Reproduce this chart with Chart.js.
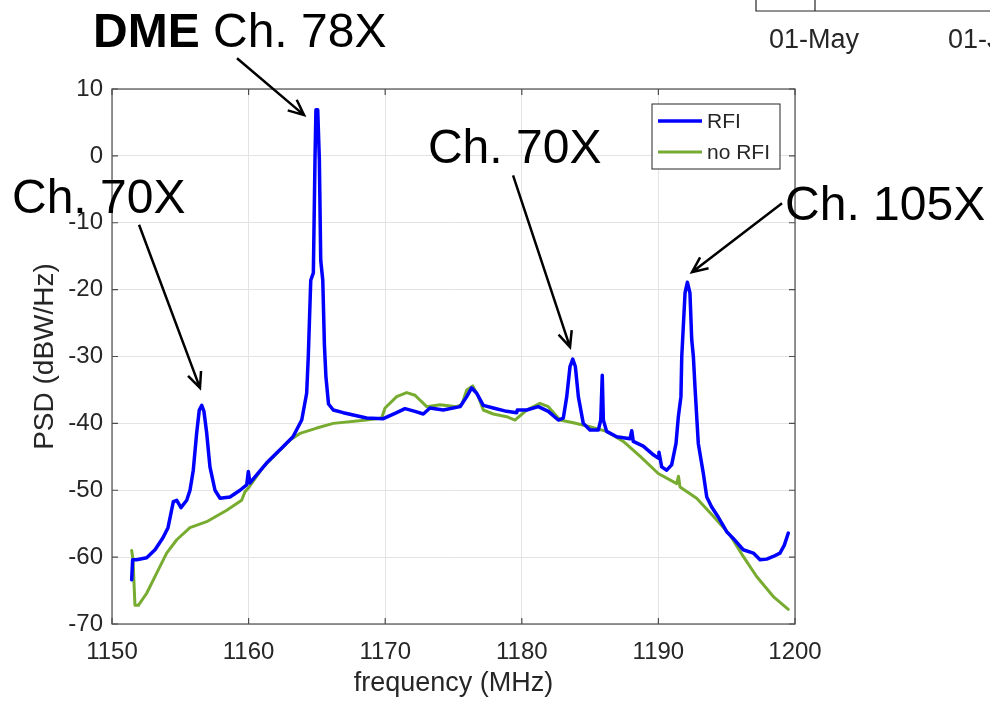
<!DOCTYPE html>
<html>
<head>
<meta charset="utf-8">
<script src="https://cdn.jsdelivr.net/npm/chart.js@4.4.1/dist/chart.umd.min.js"></script>
<style>
  html, body { margin: 0; padding: 0; background: #fff; }
  #wrap { width: 990px; height: 702px; position: relative; }
</style>
</head>
<body>
<div id="wrap"><canvas id="psd"></canvas></div>
<script>
// values (frequency in MHz, PSD in dBW/Hz)
const rfiFreq = [
  1151.44, 1151.51, 1151.81, 1152.54, 1153.15, 1153.73, 1154.10, 1154.49, 1154.74, 1155.05,
  1155.47, 1155.71, 1155.95, 1156.20, 1156.39, 1156.57, 1156.73, 1156.93, 1157.17, 1157.54,
  1157.91, 1158.64, 1159.37, 1159.86, 1159.98, 1160.10, 1161.33, 1162.52, 1163.25, 1163.89,
  1164.25, 1164.37, 1164.55, 1164.74, 1164.86, 1164.93, 1165.06, 1165.18, 1165.28, 1165.43,
  1165.55, 1165.66, 1165.85, 1166.20, 1166.93, 1168.64, 1169.86, 1170.84, 1171.45, 1172.18,
  1172.79, 1173.28, 1174.25, 1175.48, 1175.97, 1176.33, 1176.70, 1177.18, 1177.91, 1178.89,
  1179.63, 1179.67, 1180.36, 1181.21, 1181.94, 1182.67, 1183.04, 1183.29, 1183.53, 1183.73,
  1183.92, 1184.14, 1184.50, 1184.99, 1185.60, 1185.78, 1185.89, 1185.97, 1186.21, 1186.95,
  1187.92, 1188.05, 1188.16, 1188.89, 1189.63, 1189.99, 1190.04, 1190.24, 1190.61, 1190.97,
  1191.29, 1191.46, 1191.65, 1191.71, 1191.95, 1192.12, 1192.31, 1192.44, 1192.56, 1192.69,
  1192.92, 1193.29, 1193.54, 1193.90, 1194.38, 1195.00, 1195.48, 1196.21, 1196.95, 1197.44,
  1197.93, 1198.41, 1198.90, 1199.22, 1199.51
];
const rfiPsd = [
  -63.4, -60.4, -60.4, -60.1, -58.9, -57.1, -55.6, -51.7, -51.5, -52.6,
  -51.5, -50.0, -47.0, -41.4, -38.0, -37.3, -38.2, -41.4, -46.5, -50.0,
  -51.2, -51.0, -50.0, -49.2, -47.2, -48.9, -45.9, -43.5, -42.0, -39.5,
  -35.5, -30.0, -18.6, -17.5, -0.6, 6.9, 6.9, -0.6, -15.6, -18.6,
  -28.3, -33.0, -37.1, -38.0, -38.4, -39.2, -39.3, -38.4, -37.8, -38.2,
  -38.6, -37.7, -38.0, -37.5, -36.0, -34.7, -35.5, -37.3, -37.7, -38.2,
  -38.4, -38.0, -38.0, -37.5, -38.2, -39.5, -39.2, -36.0, -31.5, -30.4,
  -31.5, -36.0, -40.0, -41.0, -41.0, -39.5, -32.8, -39.5, -41.2, -42.0,
  -42.3, -41.1, -42.7, -43.4, -44.7, -45.2, -44.3, -46.5, -47.0, -46.2,
  -43.0, -39.0, -36.0, -30.0, -20.5, -18.9, -20.5, -27.5, -30.0, -35.0,
  -43.0, -47.5, -51.0, -52.5, -54.0, -56.2, -57.2, -58.9, -59.4, -60.4,
  -60.3, -59.9, -59.4, -58.2, -56.4
];

const noRfiFreq = [
  1151.44, 1151.54, 1151.68, 1151.93, 1152.54, 1153.27, 1154.00, 1154.74, 1155.71, 1156.93,
  1158.40, 1159.49, 1159.74, 1159.98, 1161.08, 1162.06, 1163.03, 1163.76, 1164.99, 1166.20,
  1168.64, 1169.74, 1169.99, 1170.84, 1171.57, 1172.18, 1173.04, 1174.01, 1175.23, 1175.60,
  1175.97, 1176.41, 1176.82, 1177.18, 1177.91, 1178.89, 1179.50, 1180.36, 1181.33, 1181.94,
  1182.80, 1183.77, 1184.99, 1186.21, 1187.43, 1188.65, 1189.99, 1191.34, 1191.47, 1191.58,
  1192.80, 1194.02, 1195.24, 1196.21, 1197.19, 1198.41, 1199.51
];
const noRfiPsd = [
  -59.0, -60.4, -67.2, -67.2, -65.4, -62.4, -59.4, -57.4, -55.6, -54.7,
  -53.0, -51.5, -50.2, -49.7, -46.5, -44.5, -42.5, -41.5, -40.7, -40.0,
  -39.5, -39.2, -37.7, -36.0, -35.4, -35.8, -37.5, -37.2, -37.5, -37.2,
  -35.0, -34.4, -36.0, -38.0, -38.6, -39.0, -39.5, -38.0, -37.0, -37.5,
  -39.5, -39.9, -40.5, -41.2, -42.7, -44.9, -47.5, -49.0, -47.9, -49.5,
  -51.2, -53.9, -56.7, -59.9, -62.9, -65.9, -67.8
];

const seriesNames = ['RFI', 'no RFI'];
const xTicks = [1150, 1160, 1170, 1180, 1190, 1200];
const yTicks = [-70, -60, -50, -40, -30, -20, -10, 0, 10];

// callouts: label, text anchor (freq, psd), arrow start, arrow tip
const callouts = [
  { bold: 'DME', text: ' Ch. 78X', at: [1148.61, 16.3], from: [1159.15, 14.6], to: [1164.06, 6.1] },
  { bold: '', text: 'Ch. 70X', at: [1142.68, -8.5], from: [1151.98, -10.3], to: [1156.44, -34.7] },
  { bold: '', text: 'Ch. 70X', at: [1173.13, -1.1], from: [1179.36, -2.9], to: [1183.53, -28.6] },
  { bold: '', text: 'Ch. 105X', at: [1199.27, -9.6], from: [1199.05, -7.1], to: [1192.46, -17.4] }
];

const toPoints = (xs, ys) => xs.map((x, i) => ({ x: x, y: ys[i] }));

const FONT = 'Liberation Sans, Arial, Helvetica, sans-serif';
const AXIS_COL = '#262626';

function arrow(ctx, x1, y1, x2, y2) {
  const ang = Math.atan2(y2 - y1, x2 - x1);
  const len = 17, spread = 0.42;
  ctx.beginPath();
  ctx.moveTo(x1, y1);
  ctx.lineTo(x2, y2);
  ctx.moveTo(x2 - len * Math.cos(ang - spread), y2 - len * Math.sin(ang - spread));
  ctx.lineTo(x2, y2);
  ctx.lineTo(x2 - len * Math.cos(ang + spread), y2 - len * Math.sin(ang + spread));
  ctx.stroke();
}

const extras = {
  id: 'extras',
  afterDraw(chart) {
    const ctx = chart.ctx;
    const a = chart.chartArea;
    const xs = chart.scales.x, ys = chart.scales.y;
    ctx.save();

    // axes box + inward ticks
    ctx.strokeStyle = '#4d4d4d';
    ctx.lineWidth = 1.2;
    ctx.strokeRect(a.left, a.top, a.right - a.left, a.bottom - a.top);
    ctx.beginPath();
    xTicks.forEach(v => {
      const px = xs.getPixelForValue(v);
      ctx.moveTo(px, a.bottom); ctx.lineTo(px, a.bottom - 6);
      ctx.moveTo(px, a.top); ctx.lineTo(px, a.top + 6);
    });
    yTicks.forEach(v => {
      const py = ys.getPixelForValue(v);
      ctx.moveTo(a.left, py); ctx.lineTo(a.left + 6, py);
      ctx.moveTo(a.right, py); ctx.lineTo(a.right - 6, py);
    });
    ctx.stroke();

    // legend box inside the axes, top right
    const lx = a.right - 143, ly = a.top + 15, lw = 128, lh = 65;
    ctx.fillStyle = '#fff';
    ctx.fillRect(lx, ly, lw, lh);
    ctx.strokeStyle = '#262626';
    ctx.lineWidth = 1;
    ctx.strokeRect(lx, ly, lw, lh);
    ctx.font = '21px ' + FONT;
    ctx.textBaseline = 'middle';
    chart.data.datasets.forEach((ds, i) => {
      const yy = ly + 17 + i * 31;
      ctx.strokeStyle = ds.borderColor;
      ctx.lineWidth = ds.borderWidth;
      ctx.beginPath();
      ctx.moveTo(lx + 6, yy); ctx.lineTo(lx + 50, yy);
      ctx.stroke();
      ctx.fillStyle = AXIS_COL;
      ctx.fillText(ds.label, lx + 55, yy + 1);
    });

    // callout labels and arrows
    ctx.fillStyle = '#000';
    ctx.strokeStyle = '#000';
    ctx.lineWidth = 2.5;
    ctx.textBaseline = 'alphabetic';
    callouts.forEach(c => {
      let tx = xs.getPixelForValue(c.at[0]);
      const ty = ys.getPixelForValue(c.at[1]);
      if (c.bold) {
        ctx.font = 'bold 48px ' + FONT;
        ctx.fillText(c.bold, tx, ty);
        tx += ctx.measureText(c.bold).width;
      }
      ctx.font = '48px ' + FONT;
      ctx.fillText(c.text, tx, ty);
      arrow(ctx,
        xs.getPixelForValue(c.from[0]), ys.getPixelForValue(c.from[1]),
        xs.getPixelForValue(c.to[0]), ys.getPixelForValue(c.to[1]));
    });

    // fragment of the neighbouring figure, top right corner
    const W = chart.width;
    ctx.strokeStyle = '#262626';
    ctx.lineWidth = 1.2;
    ctx.beginPath();
    ctx.moveTo(W - 234, 0); ctx.lineTo(W - 234, 11); ctx.lineTo(W, 11);
    ctx.moveTo(W - 175, 0); ctx.lineTo(W - 175, 11);
    ctx.stroke();
    ctx.fillStyle = AXIS_COL;
    ctx.font = '27px ' + FONT;
    ctx.fillText('01-May', W - 221, 48);
    ctx.fillText('01-Jun', W - 42, 48);

    ctx.restore();
  }
};

const ctx = document.getElementById('psd').getContext('2d');
new Chart(ctx, {
  type: 'line',
  data: {
    datasets: [
      { label: seriesNames[0], data: toPoints(rfiFreq, rfiPsd), borderColor: '#0000ff', borderWidth: 3.5 },
      { label: seriesNames[1], data: toPoints(noRfiFreq, noRfiPsd), borderColor: '#77ac30', borderWidth: 3 }
    ]
  },
  options: {
    responsive: true,
    maintainAspectRatio: false,
    animation: false,
    layout: { padding: { left: 0, top: 89, right: 195, bottom: 0 } },
    elements: { point: { radius: 0 }, line: { tension: 0, borderJoinStyle: 'round', borderCapStyle: 'round' } },
    plugins: { legend: { display: false }, tooltip: { enabled: false } },
    scales: {
      x: {
        type: 'linear', min: 1150, max: 1200,
        afterFit: s => { s.height = 78; },
        afterBuildTicks: s => { s.ticks = xTicks.map(v => ({ value: v })); },
        grid: { color: '#e3e3e3', drawTicks: false },
        border: { display: false },
        ticks: { padding: 14, color: AXIS_COL, font: { family: FONT, size: 24 }, maxRotation: 0, callback: v => String(v) },
        title: { display: true, text: 'frequency (MHz)', color: AXIS_COL, font: { family: FONT, size: 27 }, padding: { top: 0, bottom: 2 } }
      },
      y: {
        type: 'linear', min: -70, max: 10,
        afterFit: s => { s.width = 112; },
        afterBuildTicks: s => { s.ticks = yTicks.map(v => ({ value: v })); },
        grid: { color: '#e3e3e3', drawTicks: false },
        border: { display: false },
        ticks: { padding: 9, color: AXIS_COL, font: { family: FONT, size: 24 }, callback: v => String(v) },
        title: { display: true, text: 'PSD (dBW/Hz)', color: AXIS_COL, font: { family: FONT, size: 28 }, padding: { top: 28, bottom: 0 } }
      }
    }
  },
  plugins: [extras]
});
</script>
</body>
</html>
